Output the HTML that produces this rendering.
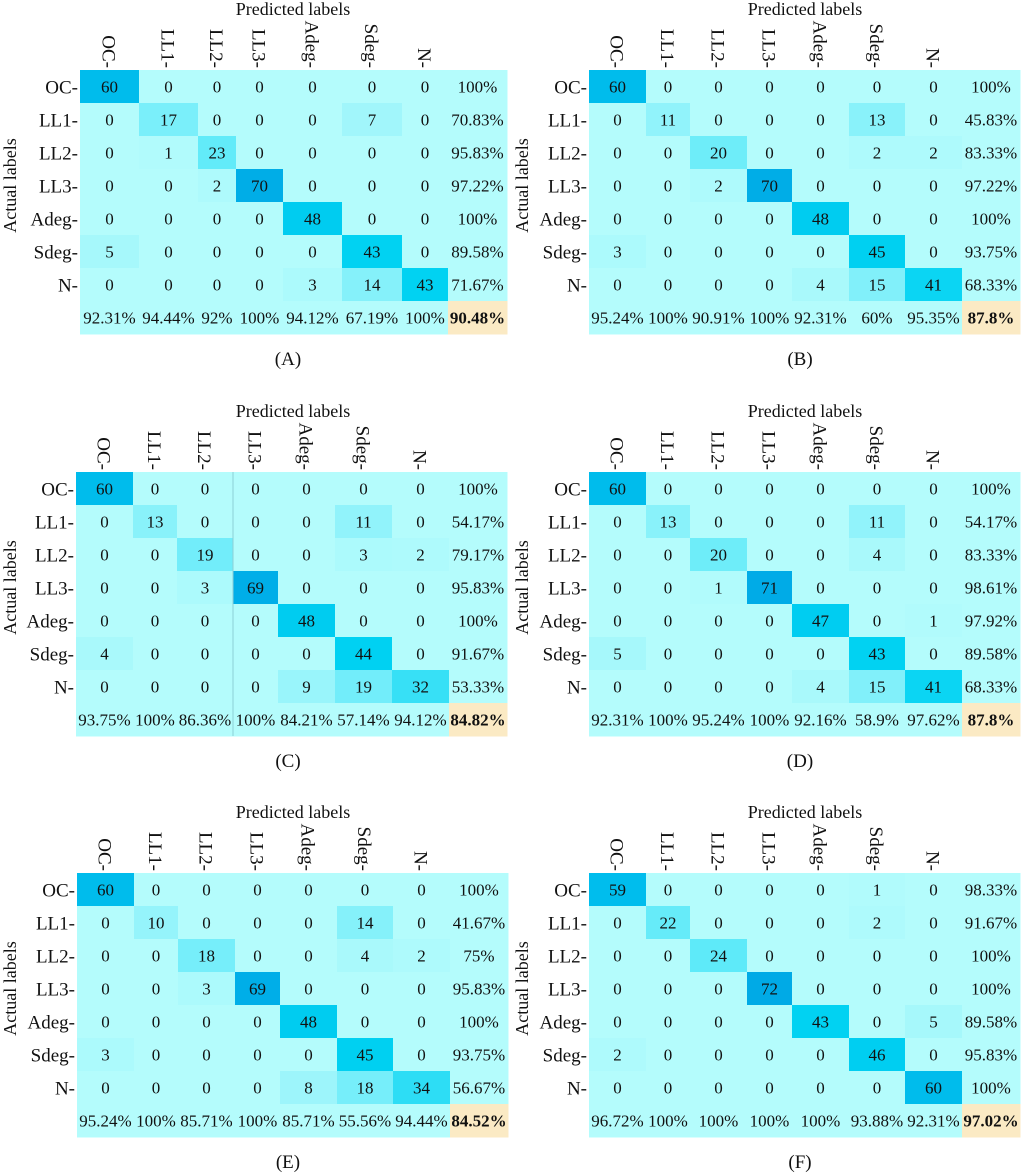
<!DOCTYPE html>
<html><head><meta charset="utf-8"><style>
html,body{margin:0;padding:0;background:#fff;}
svg{display:block;font-family:"Liberation Serif",serif;}
</style></head><body>
<svg id="fig" width="1024" height="1173" viewBox="0 0 1024 1173" xmlns="http://www.w3.org/2000/svg"></svg>
<script>
const classLabels = ["OC-","LL1-","LL2-","LL3-","Adeg-","Sdeg-","N-"];
const panelNames = ["A","B","C","D","E","F"];
const matA = [[60,0,0,0,0,0,0],[0,17,0,0,0,7,0],[0,1,23,0,0,0,0],[0,0,2,70,0,0,0],[0,0,0,0,48,0,0],[5,0,0,0,0,43,0],[0,0,0,0,3,14,43]];
const rowA = ["100%","70.83%","95.83%","97.22%","100%","89.58%","71.67%"];
const colA = ["92.31%","94.44%","92%","100%","94.12%","67.19%","100%"];
const totA = "90.48%";
const matB = [[60,0,0,0,0,0,0],[0,11,0,0,0,13,0],[0,0,20,0,0,2,2],[0,0,2,70,0,0,0],[0,0,0,0,48,0,0],[3,0,0,0,0,45,0],[0,0,0,0,4,15,41]];
const rowB = ["100%","45.83%","83.33%","97.22%","100%","93.75%","68.33%"];
const colB = ["95.24%","100%","90.91%","100%","92.31%","60%","95.35%"];
const totB = "87.8%";
const matC = [[60,0,0,0,0,0,0],[0,13,0,0,0,11,0],[0,0,19,0,0,3,2],[0,0,3,69,0,0,0],[0,0,0,0,48,0,0],[4,0,0,0,0,44,0],[0,0,0,0,9,19,32]];
const rowC = ["100%","54.17%","79.17%","95.83%","100%","91.67%","53.33%"];
const colC = ["93.75%","100%","86.36%","100%","84.21%","57.14%","94.12%"];
const totC = "84.82%";
const matD = [[60,0,0,0,0,0,0],[0,13,0,0,0,11,0],[0,0,20,0,0,4,0],[0,0,1,71,0,0,0],[0,0,0,0,47,0,1],[5,0,0,0,0,43,0],[0,0,0,0,4,15,41]];
const rowD = ["100%","54.17%","83.33%","98.61%","97.92%","89.58%","68.33%"];
const colD = ["92.31%","100%","95.24%","100%","92.16%","58.9%","97.62%"];
const totD = "87.8%";
const matE = [[60,0,0,0,0,0,0],[0,10,0,0,0,14,0],[0,0,18,0,0,4,2],[0,0,3,69,0,0,0],[0,0,0,0,48,0,0],[3,0,0,0,0,45,0],[0,0,0,0,8,18,34]];
const rowE = ["100%","41.67%","75%","95.83%","100%","93.75%","56.67%"];
const colE = ["95.24%","100%","85.71%","100%","85.71%","55.56%","94.44%"];
const totE = "84.52%";
const matF = [[59,0,0,0,0,1,0],[0,22,0,0,0,2,0],[0,0,24,0,0,0,0],[0,0,0,72,0,0,0],[0,0,0,0,43,0,5],[2,0,0,0,0,46,0],[0,0,0,0,0,0,60]];
const rowF = ["98.33%","91.67%","100%","100%","89.58%","95.83%","100%"];
const colF = ["96.72%","100%","100%","100%","100%","93.88%","92.31%"];
const totF = "97.02%";

const mats=[matA,matB,matC,matD,matE,matF], rows=[rowA,rowB,rowC,rowD,rowE,rowF], cols=[colA,colB,colC,colD,colE,colF], tots=[totA,totB,totC,totD,totE,totF];
const NS="http://www.w3.org/2000/svg";
const svg=document.getElementById('fig');
function mk(tag,attrs,parent,txt){const e=document.createElementNS(NS,tag);for(const k in attrs)e.setAttribute(k,attrs[k]);if(txt!==undefined)e.textContent=txt;parent.appendChild(e);return e;}
const stops=[[0,[180,252,252]],[0.1,[160,246,251]],[0.33,[95,234,249]],[0.6,[0,210,242]],[0.85,[0,186,236]],[1,[0,170,230]]];
function color(v){const t=Math.max(0,Math.min(1,v/72));for(let i=1;i<stops.length;i++){if(t<=stops[i][0]){const a=stops[i-1],b=stops[i],f=(t-a[0])/(b[0]-a[0]);const c=a[1].map((x,j)=>Math.round(x+(b[1][j]-x)*f));return `rgb(${c})`;}}return 'rgb(0,170,230)';}
const bA=[80,139,198,236,283,342,402,448,507];
const bDef=[77,134,178,235,280,337,393,450,508];
const bC=[76,133,177,233,278,335,392,449,507];
const tops=[70,70,472,472,873,873];
const RH=33;
for(let p=0;p<6;p++){
  const ox=(p%2)*512, top=tops[p];
  const bb=(p===0?bA:(p===2?bC:bDef)).map(x=>x+ox);
  const g=mk('g',{},svg);
  
  
  const m=mats[p];
  for(let r=0;r<8;r++){for(let c=0;c<8;c++){
    let fill, txt, bold=false;
    if(r<7&&c<7){fill=color(m[r][c]);txt=String(m[r][c]);}
    else if(r<7){fill=color(0);txt=rows[p][r];}
    else if(c<7){fill=color(0);txt=cols[p][c];}
    else{fill='#fbeac4';txt=tots[p];bold=true;}
    const rc=mk('rect',{x:bb[c],y:top+r*RH,width:bb[c+1]-bb[c]+0.5,height:RH+0.5,fill:fill},g);
    
    
    const t=mk('text',{x:(bb[c]+bb[c+1])/2,y:top+r*RH+RH/2+6,'text-anchor':'middle','font-size':17,fill:'#111','font-weight':bold?'bold':'normal'},g,txt);
    
    
  }}
  if(p===2){mk('line',{x1:bb[3],y1:top,x2:bb[3],y2:top+8*RH,stroke:'#8ccfd6','stroke-width':1},g);}
  for(let i=0;i<7;i++){
    const rl=mk('text',{x:bb[0]-2,y:top+i*RH+RH/2+7,'text-anchor':'end','font-size':19,fill:'#111'},g,classLabels[i]);
    
    
    const cx=(bb[i]+bb[i+1])/2-7;
    const cl=mk('text',{x:0,y:0,'text-anchor':'end','font-size':19,fill:'#111',transform:`translate(${cx},${top-2}) rotate(90)`},g,classLabels[i]);
    
    
  }
  const tt=mk('text',{x:ox+293,y:top-55,'text-anchor':'middle','font-size':18,fill:'#111'},g,'Predicted labels');
  
  
  const yl=mk('text',{x:0,y:0,'text-anchor':'middle','font-size':18,fill:'#111',transform:`translate(${ox+16},${top+3.5*RH}) rotate(-90)`},g,'Actual labels');
  
  
  const cap=mk('text',{x:ox+288,y:top+8*RH+31,'text-anchor':'middle','font-size':19,fill:'#111'},g,'('+panelNames[p]+')');
  
  
}
</script>
</body></html>
